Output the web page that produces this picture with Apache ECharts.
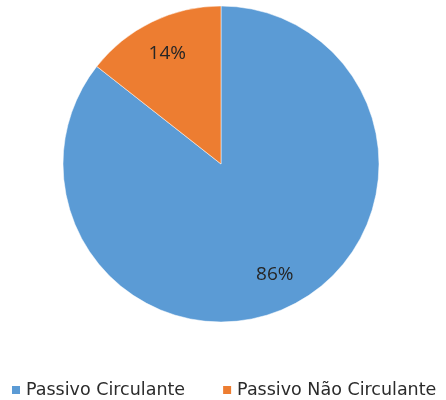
<html>
<head>
<meta charset="utf-8">
<script src="https://cdn.jsdelivr.net/npm/echarts@6/dist/echarts.min.js"></script>
<style>
  html, body, #main { width: 100%; height: 100%; margin: 0; background: #fff; }
</style>
</head>
<body>
<div id="main"></div>
<script>
var categories = ['Passivo Circulante', 'Passivo Não Circulante'];
var values = [85.6, 14.4];
var colors = ['#5B9BD5', '#ED7D31'];

var data = categories.map(function (name, i) {
    return { name: name, value: values[i], itemStyle: { color: colors[i] } };
});

var chart = echarts.init(document.getElementById('main'));

chart.setOption({
    animation: false,
    legend: {
        bottom: -4,
        left: 5,
        itemWidth: 10,
        itemHeight: 10,
        itemGap: 36,
        icon: 'rect',
        textStyle: { fontFamily: 'DejaVu Sans', fontSize: 17.5, color: '#2b2b2b' },
        data: categories
    },
    series: [{
        type: 'pie',
        center: [221, 164],
        radius: [0, 158],
        startAngle: 90,
        label: { show: false },
        labelLine: { show: false },
        itemStyle: { borderColor: '#fff', borderWidth: 0.5 },
        data: data
    }, {
        // transparent ring only used to place the labels further out
        type: 'pie',
        silent: true,
        center: [221, 164],
        radius: [86, 154],
        startAngle: 90,
        itemStyle: { color: 'transparent' },
        label: {
            position: 'inside',
            fontFamily: 'Open Sans',
            fontSize: 19,
            color: '#262626',
            formatter: function (p) { return Math.round(p.percent) + '%'; }
        },
        labelLine: { show: false },
        data: categories.map(function (name, i) { return { name: name, value: values[i] }; })
    }]
});
</script>
</body>
</html>
